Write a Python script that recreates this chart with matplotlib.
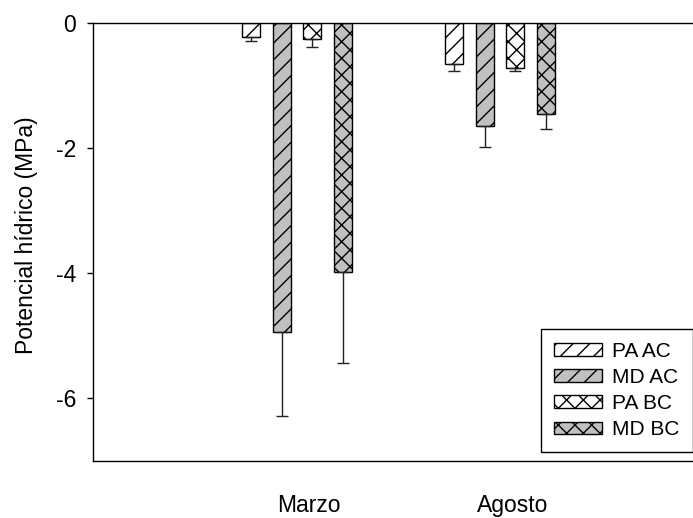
import numpy as np
import matplotlib
matplotlib.use("Agg")
import matplotlib.pyplot as plt

plt.rcParams['font.family'] = ['Liberation Sans', 'DejaVu Sans']
plt.rcParams['axes.unicode_minus'] = False
plt.rcParams['hatch.linewidth'] = 1.0

# data
groups = ['Marzo', 'Agosto']
series = ['PA AC', 'MD AC', 'PA BC', 'MD BC']
pa_ac = [-0.22, -0.66]
pa_ac_err = [0.07, 0.11]
md_ac = [-4.94, -1.65]
md_ac_err = [1.34, 0.33]
pa_bc = [-0.25, -0.72]
pa_bc_err = [0.14, 0.04]
md_bc = [-3.98, -1.46]
md_bc_err = [1.45, 0.23]

values = [pa_ac, md_ac, pa_bc, md_bc]
errors = [pa_ac_err, md_ac_err, pa_bc_err, md_bc_err]
colors = ['white', '#c0c0c0', 'white', '#c0c0c0']
hatches = ['//', '//', 'xx', 'xx']

fig = plt.figure(figsize=(6.93, 5.18), dpi=100)
ax = fig.add_axes([93/693, 57/518, 600/693, 438/518])

x = np.arange(len(groups))
step = 0.150
width = 0.0887
for i, (vals, errs, col, hat, name) in enumerate(zip(values, errors, colors, hatches, series)):
    pos = x + (i - 1.5) * step
    ax.bar(pos, vals, width=width, color=col, edgecolor='black', linewidth=1.0,
           hatch=hat, label=name, zorder=2)
    ax.errorbar(pos, vals, yerr=[errs, np.zeros(len(errs))], fmt='none', ecolor='#222222',
                elinewidth=1.0, capsize=4.6, capthick=1.0, zorder=3)

ax.set_xlim(-1.005, 1.951)
ax.set_ylim(-7, 0)
ax.set_yticks([-6, -4, -2, 0])
ax.set_xticks(x + 0.06)
ax.set_xticklabels(groups)
ax.tick_params(axis='x', length=0, pad=24, labelsize=16.5)
ax.tick_params(axis='y', direction='out', length=4, width=1, pad=8, labelsize=16.5)

ax.spines['right'].set_visible(False)
for s in ['top', 'left', 'bottom']:
    ax.spines[s].set_linewidth(1.0)

ax.set_ylabel('Potencial hídrico (MPa)', fontsize=16.5)
ax.yaxis.set_label_coords(-0.092, 0.516)

leg = ax.legend(loc='upper left', bbox_to_anchor=(541/693, 1 - 329/518), bbox_transform=fig.transFigure,
                borderaxespad=0, fontsize=15, frameon=True, fancybox=False, framealpha=1,
                edgecolor='black', handlelength=2.3, handleheight=0.55, handletextpad=0.5,
                borderpad=0.62, labelspacing=0.34)
leg.get_frame().set_linewidth(1.0)

fig.savefig('out.png', dpi=100)
